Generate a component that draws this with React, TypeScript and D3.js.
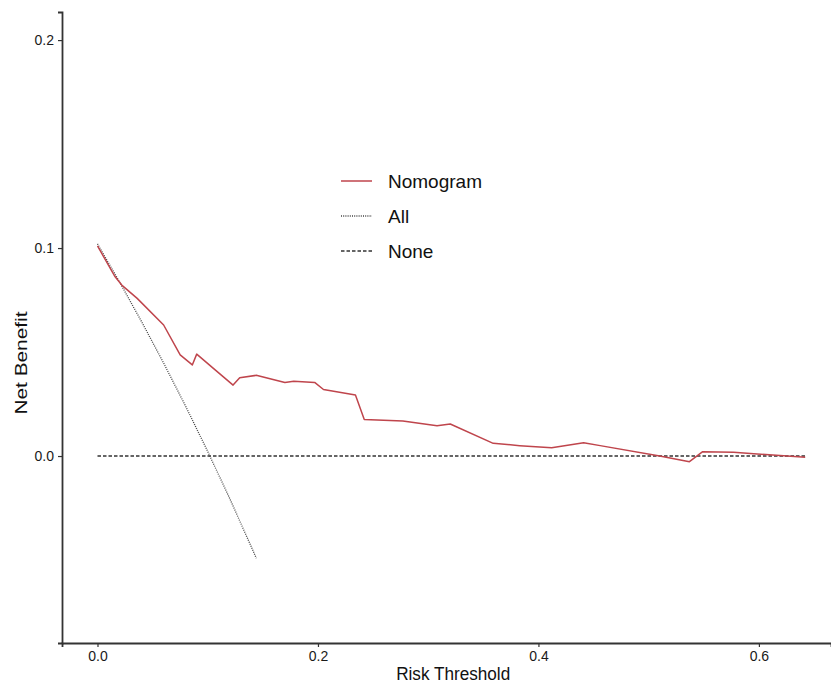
import React, { useEffect, useRef } from "react";
import * as d3 from "d3";

// risk thresholds and net benefit
const nomogramThreshold = [0.0, 0.016, 0.022, 0.036, 0.06, 0.075, 0.086, 0.09, 0.107, 0.123, 0.129, 0.144, 0.17, 0.178, 0.197, 0.205, 0.234, 0.242, 0.277, 0.308, 0.32, 0.359, 0.383, 0.412, 0.441, 0.456, 0.51, 0.537, 0.549, 0.577, 0.642];
const nomogramBenefit = [0.101, 0.0862, 0.0822, 0.0758, 0.063, 0.0486, 0.0438, 0.049, 0.0413, 0.0341, 0.0376, 0.0388, 0.0354, 0.036, 0.0354, 0.032, 0.0293, 0.0176, 0.0168, 0.0146, 0.0154, 0.0061, 0.005, 0.004, 0.0064, 0.005, 0.0, -0.0027, 0.0021, 0.0018, -0.0006];

const allThreshold = [0.0, 0.02, 0.04, 0.06, 0.08, 0.1, 0.12, 0.14, 0.144];
const allBenefit = [0.102, 0.0837, 0.0646, 0.0447, 0.0239, 0.0022, -0.0205, -0.0442, -0.0491];

const noneThreshold = [0.0, 0.642];
const noneBenefit = [0, 0];

const xTicks = [0, 0.2, 0.4, 0.6];
const yTicks = [0, 0.1, 0.2];

const legendLabels = ["Nomogram", "All", "None"];

const width = 831;
const height = 684;

const App = () => {
  const svgRef = useRef<SVGSVGElement>(null);

  useEffect(() => {
    const svg = d3.select(svgRef.current);
    svg.selectAll("*").remove();

    const left = 62;
    const right = 831;
    const top = 12;
    const bottom = 643;

    const x = d3.scaleLinear().domain([-0.0322, 0.6654]).range([left, right]);
    const y = d3.scaleLinear().domain([-0.0899, 0.2135]).range([bottom, top]);

    const line = d3.line<[number, number]>()
      .x((d) => x(d[0]))
      .y((d) => y(d[1]));

    const zip = (a: number[], b: number[]) => a.map((v, i) => [v, b[i]] as [number, number]);

    const styles = [
      { color: "#bf454c", width: 1.5, dash: null },
      { color: "#444", width: 1.3, dash: "1,1.2" },
      { color: "#333", width: 1.4, dash: "3.5,2" },
    ];

    // None
    svg.append("path")
      .attr("d", line(zip(noneThreshold, noneBenefit)))
      .attr("fill", "none")
      .attr("stroke", styles[2].color)
      .attr("stroke-width", styles[2].width)
      .attr("stroke-dasharray", styles[2].dash);

    // All
    svg.append("path")
      .attr("d", line(zip(allThreshold, allBenefit)))
      .attr("fill", "none")
      .attr("stroke", styles[1].color)
      .attr("stroke-width", styles[1].width)
      .attr("stroke-dasharray", styles[1].dash);

    // Nomogram
    svg.append("path")
      .attr("d", line(zip(nomogramThreshold, nomogramBenefit)))
      .attr("fill", "none")
      .attr("stroke", styles[0].color)
      .attr("stroke-width", styles[0].width)
      .attr("stroke-linejoin", "round");

    // axes
    const xAxis = svg.append("g")
      .attr("transform", `translate(0, ${bottom})`)
      .call(d3.axisBottom(x).tickValues(xTicks).tickFormat(d3.format(".1f")).tickSizeOuter(0).tickSize(4).tickPadding(4));
    const yAxis = svg.append("g")
      .attr("transform", `translate(${left}, 0)`)
      .call(d3.axisLeft(y).tickValues(yTicks).tickFormat(d3.format(".1f")).tickSizeOuter(0).tickSize(4).tickPadding(4));

    [xAxis, yAxis].forEach((axis) => {
      axis.select(".domain").attr("stroke", "#333").attr("stroke-width", 1.8);
      axis.selectAll(".tick line").attr("stroke", "#333").attr("stroke-width", 1.2);
      axis.selectAll("text")
        .attr("font-family", "Liberation Sans, Arial, sans-serif")
        .attr("font-size", 14)
        .attr("fill", "#1a1a1a");
    });
    yAxis.selectAll("text").attr("dy", "0.35em");

    svg.append("text")
      .attr("x", (x(0.2) + x(0.4)) / 2 + 25)
      .attr("y", 680)
      .attr("text-anchor", "middle")
      .attr("font-family", "Liberation Sans, Arial, sans-serif")
      .attr("font-size", 18)
      .attr("textLength", 114)
      .attr("lengthAdjust", "spacingAndGlyphs")
      .attr("fill", "#111")
      .text("Risk Threshold");

    svg.append("text")
      .attr("transform", `translate(27, ${(y(0) + y(0.1)) / 2 + 11}) rotate(-90)`)
      .attr("text-anchor", "middle")
      .attr("font-family", "Liberation Sans, Arial, sans-serif")
      .attr("font-size", 17)
      .attr("textLength", 103)
      .attr("lengthAdjust", "spacingAndGlyphs")
      .attr("fill", "#111")
      .text("Net Benefit");

    // legend
    const legend = svg.append("g").attr("transform", "translate(341, 181)");
    legendLabels.forEach((label, i) => {
      const row = legend.append("g").attr("transform", `translate(0, ${i * 35})`);
      row.append("line")
        .attr("x1", 0)
        .attr("x2", 31)
        .attr("stroke", styles[i].color)
        .attr("stroke-width", styles[i].width)
        .attr("stroke-dasharray", styles[i].dash);
      row.append("text")
        .attr("x", 47)
        .attr("dy", "0.36em")
        .attr("font-family", "Liberation Sans, Arial, sans-serif")
        .attr("font-size", 19)
        .attr("fill", "#111")
        .text(label);
    });
  }, []);

  return (
    <svg
      ref={svgRef}
      width={width}
      height={height}
      style={{ position: "absolute", left: 0, top: 0, background: "#fff" }}
      role="img"
      aria-label="Decision curve analysis"
    />
  );
};

export default App;
